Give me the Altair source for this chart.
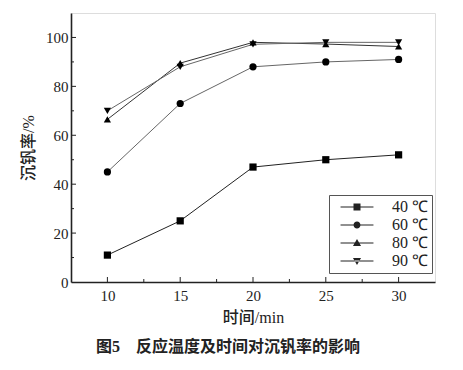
import altair as alt
import pandas as pd

time_min = [10, 15, 20, 25, 30]
series_names = ["40 ℃", "60 ℃", "80 ℃", "90 ℃"]
rate_40 = [11, 25, 47, 50, 52]
rate_60 = [45, 73, 88, 90, 91]
rate_80 = [66.5, 89.5, 98, 97.3, 96.3]
rate_90 = [70, 88, 97.2, 98, 98]
x_major = [10, 15, 20, 25, 30]
x_minor = [12.5, 17.5, 22.5, 27.5]
y_major = [20, 40, 60, 80, 100]
y_minor = [10, 30, 50, 70, 90]

rows = []
for name, vals in zip(series_names, [rate_40, rate_60, rate_80, rate_90]):
    for t, v in zip(time_min, vals):
        rows.append({"t": t, "rate": v, "series": name})
df = pd.DataFrame(rows)

W, H = 364, 269
SERIF = "Liberation Serif"
MIXED = "Liberation Serif, Noto Sans CJK SC"
MAJOR_LEN, MINOR_LEN = 5, 3

xscale = alt.Scale(domain=[7.5, 32.5], nice=False, zero=False)
yscale = alt.Scale(domain=[0, 110], nice=False, zero=False)

x_axis = alt.Axis(
    orient="bottom", values=x_major, ticks=False, tickSize=0, grid=False,
    labelPadding=6, labelFont=SERIF, labelFontSize=15, labelColor="#222",
    domainColor="#222", domainWidth=1.6,
    title="时间/min", titleFont=MIXED, titleFontSize=16, titleFontWeight=500,
    titleColor="#222", titlePadding=6)
y_axis = alt.Axis(
    orient="left", values=[0] + y_major, ticks=False, tickSize=0, grid=False,
    labelPadding=3, labelFont=SERIF, labelFontSize=15, labelColor="#222",
    domainColor="#222", domainWidth=1.6,
    title="沉钒率/%", titleFont=MIXED, titleFontSize=16, titleFontWeight=500,
    titleColor="#222", titlePadding=9)

base = alt.Chart(df)

lines = base.mark_line(strokeWidth=1).encode(
    x=alt.X("t:Q", scale=xscale, axis=x_axis, title="时间/min"),
    y=alt.Y("rate:Q", scale=yscale, axis=y_axis, title="沉钒率/%"),
    color=alt.Color("series:N", scale=alt.Scale(domain=series_names,
                    range=["#222", "#666", "#333", "#666"]), legend=None),
    detail="series:N",
)

points = base.mark_point(filled=True, size=52, opacity=1, color="black").encode(
    x=alt.X("t:Q", scale=xscale, axis=x_axis, title="时间/min"),
    y=alt.Y("rate:Q", scale=yscale, axis=y_axis, title="沉钒率/%"),
    shape=alt.Shape("series:N", scale=alt.Scale(
        domain=series_names,
        range=["square", "circle", "triangle-up", "triangle-down"]), legend=None),
)

def x_ticks(vals, length):
    return alt.Chart(pd.DataFrame({"t": vals})).mark_rule(
        color="#222", strokeWidth=1).encode(
        x=alt.X("t:Q", scale=xscale, axis=x_axis, title="时间/min"),
        y=alt.value(H), y2=alt.value(H - length))

def y_ticks(vals, length):
    return alt.Chart(pd.DataFrame({"rate": vals})).mark_rule(
        color="#222", strokeWidth=1).encode(
        y=alt.Y("rate:Q", scale=yscale, axis=y_axis, title="沉钒率/%"),
        x=alt.value(0), x2=alt.value(length))

legend_paths = [
    "M-4.7,-0.15H4.7V0.15H-4.7ZM-1,-1H1V1H-1Z",
    "M-4.7,-0.15H4.7V0.15H-4.7ZM-1,0A1,1 0 1,1 1,0A1,1 0 1,1 -1,0Z",
    "M-4.7,-0.15H4.7V0.15H-4.7ZM0,-1.15L1.15,0.85H-1.15Z",
    "M-4.7,-0.15H4.7V0.15H-4.7ZM0,1.15L1.15,-0.85H-1.15Z",
]

legend_layer = base.transform_filter("false").mark_point(
    filled=True, opacity=1, size=49, color="#222"
).encode(
    x=alt.X("t:Q", scale=xscale, axis=x_axis, title="时间/min"),
    y=alt.Y("rate:Q", scale=yscale, axis=y_axis, title="沉钒率/%"),
    shape=alt.Shape("series:N", scale=alt.Scale(domain=series_names, range=legend_paths),
        legend=alt.Legend(
            title=None, orient="none", legendX=258, legendY=182,
            labelFont=SERIF, labelFontSize=16, labelColor="#222",
            strokeColor="#555", fillColor="white", padding=4, rowPadding=2,
            symbolSize=49, symbolOffset=16, labelOffset=27,
            symbolFillColor="#222", symbolOpacity=1)),
)

chart = alt.layer(
    lines, points,
    x_ticks(x_major, MAJOR_LEN), x_ticks(x_minor, MINOR_LEN),
    y_ticks(y_major, MAJOR_LEN), y_ticks(y_minor, MINOR_LEN),
    legend_layer,
).resolve_scale(
    shape="independent"
).properties(
    width=W, height=H,
    autosize=alt.AutoSizeParams(type="none"),
    padding={"left": 63, "top": 5, "right": 20, "bottom": 80},
    title=alt.TitleParams(
        text="图5　反应温度及时间对沉钒率的影响", orient="bottom", anchor="middle",
        frame="group", dx=-25, offset=14, font=MIXED, fontSize=16,
        fontWeight="bold", color="#222"),
).configure_view(stroke="#666", strokeWidth=1).configure(background="white")

chart.save("out.html", embed_options={"renderer": "svg", "actions": False})
